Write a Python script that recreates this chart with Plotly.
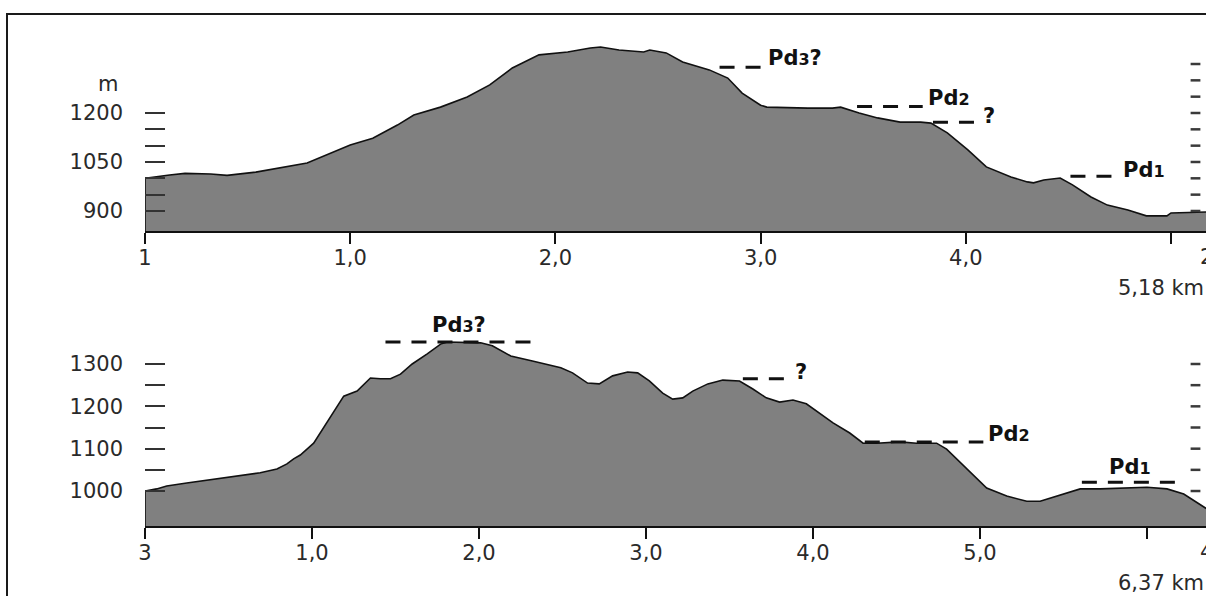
import plotly.graph_objects as go

# ---------------------------------------------------------------
# Profile 1-2 : distance along the line (km) and elevation (m)
# ---------------------------------------------------------------
p1_km = [0.00, 0.12, 0.195, 0.32, 0.40, 0.54, 0.66, 0.755, 0.79, 1.00,
         1.11, 1.23, 1.31, 1.44, 1.57, 1.68, 1.79, 1.92, 2.06, 2.17,
         2.22, 2.31, 2.43, 2.46, 2.54, 2.62, 2.75, 2.84, 2.91, 3.00,
         3.03, 3.23, 3.35, 3.39, 3.48, 3.57, 3.68, 3.78, 3.83, 3.91,
         4.01, 4.10, 4.22, 4.30, 4.33, 4.38, 4.46, 4.52, 4.61, 4.69,
         4.79, 4.88, 4.98, 5.00, 5.11, 5.18]
p1_elev = [1000, 1010, 1015, 1013, 1009, 1019, 1032, 1044, 1047, 1102,
           1123, 1163, 1194, 1218, 1249, 1286, 1338, 1378, 1387, 1399,
           1402, 1393, 1387, 1393, 1384, 1356, 1332, 1307, 1261, 1224,
           1218, 1215, 1215, 1218, 1200, 1185, 1172, 1172, 1169, 1139,
           1087, 1035, 1004, 989, 986, 995, 1001, 980, 943, 918,
           903, 885, 885, 894, 897, 897]
p1_ends = ["1", "2"]
p1_length = "5,18 km"

# ---------------------------------------------------------------
# Profile 3-4
# ---------------------------------------------------------------
p2_km = [0.00, 0.07, 0.13, 0.25, 0.41, 0.53, 0.69, 0.79, 0.85, 0.89,
         0.93, 1.01, 1.09, 1.19, 1.27, 1.35, 1.41, 1.47, 1.53, 1.60,
         1.69, 1.77, 1.81, 2.01, 2.08, 2.19, 2.32, 2.49, 2.56, 2.65,
         2.72, 2.80, 2.89, 2.95, 3.02, 3.10, 3.16, 3.22, 3.28, 3.37,
         3.46, 3.56, 3.64, 3.72, 3.80, 3.88, 3.96, 4.12, 4.22, 4.30,
         4.38, 4.52, 4.62, 4.74, 4.80, 4.92, 5.04, 5.16, 5.28, 5.36,
         5.48, 5.60, 5.72, 5.82, 5.92, 6.00, 6.12, 6.22, 6.35, 6.37]
p2_elev = [1000, 1005, 1012, 1019, 1028, 1035, 1043, 1052, 1064, 1076,
           1085, 1113, 1161, 1224, 1236, 1267, 1265, 1265, 1276, 1300,
           1324, 1347, 1352, 1350, 1343, 1319, 1307, 1291, 1279, 1255,
           1253, 1272, 1281, 1279, 1260, 1231, 1217, 1220, 1236, 1253,
           1262, 1260, 1241, 1220, 1210, 1215, 1206, 1161, 1137, 1113,
           1113, 1116, 1113, 1113, 1099, 1052, 1007, 988, 976, 976,
           991, 1005, 1005, 1007, 1009, 1009, 1005, 993, 960, 955]
p2_ends = ["3", "4"]
p2_length = "6,37 km"

# Planation levels (Pd) marked on each profile
t1_label = ["Pd<span style='font-size:16px'>3</span>?",
            "Pd<span style='font-size:16px'>2</span>", "?",
            "Pd<span style='font-size:16px'>1</span>"]
t1_level = [1340, 1220, 1172, 1006]
t1_start = [2.80, 3.47, 3.84, 4.51]
t1_end = [3.01, 3.79, 4.06, 4.74]

t2_label = ["Pd<span style='font-size:16px'>3</span>?", "?",
            "Pd<span style='font-size:16px'>2</span>",
            "Pd<span style='font-size:16px'>1</span>"]
t2_level = [1352, 1265, 1116, 1021]
t2_start = [1.44, 3.58, 4.31, 5.61]
t2_end = [2.32, 3.86, 5.02, 6.19]

# Axis ticks
km_ticks_1 = [0, 1, 2, 3, 4, 5]
km_ticks_2 = [0, 1, 2, 3, 4, 5, 6]
km_text = ["1,0", "2,0", "3,0", "4,0", "5,0"]
elev_ticks_1 = [900, 950, 1000, 1050, 1100, 1150, 1200]
elev_text_1 = ["900", "", "", "1050", "", "", "1200"]
elev_marks_1 = [900, 950, 1000, 1050, 1100, 1150, 1200, 1250, 1300, 1350]
elev_ticks_2 = [1000, 1050, 1100, 1150, 1200, 1250, 1300]
elev_text_2 = ["1000", "", "1100", "", "1200", "", "1300"]
elev_marks_2 = elev_ticks_2

# ---------------------------------------------------------------
# Page geometry (pixels)
# ---------------------------------------------------------------
W, H = 1206, 596
X0 = 145                      # left end of both profiles
SCALE_X = 1195.5              # dotted elevation scale on the right
panel1 = dict(px_per_km=205.2, base=231, top=20, ref_px=113, ref_m=1200, px_per_m=16.33 / 50)
panel2 = dict(px_per_km=167.0, base=526, top=300, ref_px=364, ref_m=1300, px_per_m=21.17 / 50)

# label placement: (mode, pixel offset of baseline below the level)
t1_place = [("right", 0), ("right", 1), ("right", 3), ("right", 3)]
t2_place = [("above", 0), ("right", 2), ("right", 1), ("above", 2)]

FILL = "rgb(128,128,128)"
INK = "#111111"
AXIS_FONT = dict(family="DejaVu Sans", size=21, color="#2a2a2a")
PD_FONT = dict(family="DejaVu Sans", size=21, color="#111111", weight="bold")


def y_range(p):
    lo = p["ref_m"] - (p["base"] - p["ref_px"]) / p["px_per_m"]
    hi = p["ref_m"] + (p["ref_px"] - p["top"]) / p["px_per_m"]
    return [lo, hi]


fig = go.Figure()
annotations = []

panels = [
    (panel1, "x", "y", p1_km, p1_elev, p1_ends, p1_length,
     t1_label, t1_level, t1_start, t1_end, t1_place, elev_marks_1),
    (panel2, "x2", "y2", p2_km, p2_elev, p2_ends, p2_length,
     t2_label, t2_level, t2_start, t2_end, t2_place, elev_marks_2),
]

for (p, xa, ya, km, elev, ends, length, labels, levels, starts, stops,
     place, marks) in panels:
    yr = y_range(p)
    floor = yr[0] - 30
    # filled terrain section, outlined on top and at the starting point
    fig.add_trace(go.Scatter(
        x=[km[0]] + km + [km[-1]], y=[floor] + elev + [floor],
        mode="lines", fill="toself", fillcolor=FILL,
        line=dict(color=INK, width=1.6), xaxis=xa, yaxis=ya,
        hoverinfo="skip", showlegend=False))
    # dotted elevation scale near the right-hand end
    scale_km = (SCALE_X - X0) / p["px_per_km"]
    fig.add_trace(go.Scatter(
        x=[scale_km] * len(marks), y=marks, mode="markers",
        marker=dict(symbol="line-ew", size=7, line=dict(color="#3a3a3a", width=2.5)),
        xaxis=xa, yaxis=ya, hoverinfo="skip", showlegend=False))
    # dashed planation levels
    for lab, lvl, a, b, (mode, dy) in zip(labels, levels, starts, stops, place):
        fig.add_trace(go.Scatter(
            x=[a, b], y=[lvl, lvl], mode="lines",
            line=dict(color=INK, width=3, dash="15px,11px"),
            xaxis=xa, yaxis=ya, hoverinfo="skip", showlegend=False))
        if mode == "right":
            annotations.append(dict(
                x=b, y=lvl, xref=xa, yref=ya, text=lab, showarrow=False,
                xanchor="left", yanchor="bottom", xshift=3, yshift=-(dy + 5),
                font=PD_FONT))
        else:
            annotations.append(dict(
                x=(a + b) / 2, y=lvl, xref=xa, yref=ya, text=lab, showarrow=False,
                xanchor="center", yanchor="bottom", yshift=-(dy + 5) + 8,
                font=PD_FONT))
    # end point number and total length at the right-hand end
    annotations.append(dict(
        x=1, y=0, xref=xa + " domain", yref=ya + " domain", text=ends[1],
        showarrow=False, xanchor="center", yanchor="top", yshift=-12,
        font=AXIS_FONT))
    annotations.append(dict(
        x=1, y=0, xref=xa + " domain", yref=ya + " domain", text=length,
        showarrow=False, xanchor="left", yanchor="top", xshift=-90, yshift=-43,
        font=AXIS_FONT))

# unit label of the elevation axis
annotations.append(dict(
    x=0, y=1200, xref="x domain", yref="y", text="m", showarrow=False,
    xanchor="right", yanchor="middle", xshift=-25, yshift=29, font=AXIS_FONT))

common_x = dict(showline=True, linecolor=INK, linewidth=2, ticks="outside",
                ticklen=11, tickwidth=1.5, tickcolor=INK, showgrid=False,
                zeroline=False, tickfont=AXIS_FONT, ticklabelstandoff=-4,
                automargin=False, fixedrange=True)
common_y = dict(showline=False, ticks="inside", ticklen=20, tickwidth=2,
                tickcolor="#333333", showgrid=False, zeroline=False,
                tickfont=AXIS_FONT, ticklabelstandoff=21, automargin=False,
                fixedrange=True)

fig.update_layout(
    width=W, height=H, margin=dict(l=0, r=0, t=0, b=0, autoexpand=False),
    paper_bgcolor="white", plot_bgcolor="white", showlegend=False,
    xaxis=dict(domain=[X0 / W, 1], range=[0, (W - X0) / panel1["px_per_km"]],
               anchor="y", tickvals=km_ticks_1,
               ticktext=[p1_ends[0]] + km_text[:4] + [""], **common_x),
    yaxis=dict(domain=[1 - panel1["base"] / H, 1 - panel1["top"] / H],
               range=y_range(panel1), anchor="x", tickvals=elev_ticks_1,
               ticktext=elev_text_1, **common_y),
    xaxis2=dict(domain=[X0 / W, 1], range=[0, (W - X0) / panel2["px_per_km"]],
                anchor="y2", tickvals=km_ticks_2,
                ticktext=[p2_ends[0]] + km_text + [""], **common_x),
    yaxis2=dict(domain=[1 - panel2["base"] / H, 1 - panel2["top"] / H],
                range=y_range(panel2), anchor="x2", tickvals=elev_ticks_2,
                ticktext=elev_text_2, **common_y),
    annotations=annotations,
    shapes=[dict(type="rect", xref="paper", yref="paper",
                 x0=7 / W, y0=-0.1, x1=1.1, y1=1 - 14 / H,
                 line=dict(color="#1a1a1a", width=2), layer="above")],
)

fig.write_html("out.html")
